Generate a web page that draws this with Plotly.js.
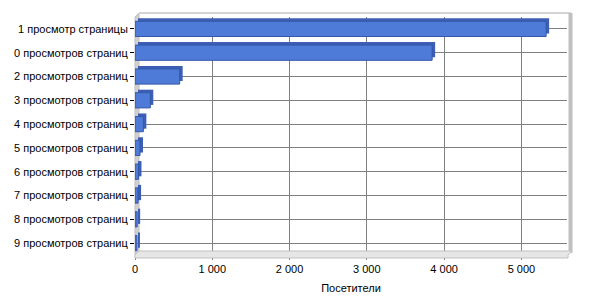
<!DOCTYPE html>
<html>
<head>
<meta charset="utf-8">
<script src="https://cdn.plot.ly/plotly-3.0.1.min.js"></script>
<style>html,body{margin:0;padding:0;background:#fff;}#chart{width:600px;height:300px;}</style>
</head>
<body>
<div id="chart"></div>
<script>
const categories = ["1 просмотр страницы","0 просмотров страниц","2 просмотров страниц","3 просмотров страниц","4 просмотров страниц","5 просмотров страниц","6 просмотров страниц","7 просмотров страниц","8 просмотров страниц","9 просмотров страниц"];
const visitors = [5320, 3845, 578, 198, 108, 65, 45, 40, 28, 25];
const xTickVals = [0, 1000, 2000, 3000, 4000, 5000];
const xTitle = "Посетители";

// layout geometry (pixels)
const W = 600, H = 300;
const mL = 135, mR = 33, mT = 17, mB = 45;
const pw = W - mL - mR, ph = H - mT - mB;
const px = v => (v - mL) / pw;
const py = v => (H - mB - v) / ph;
const depth = 3; // 3D depth in px
const xMax = 5590;
const depthData = depth / pw * xMax;
const rowPx = ph / categories.length;

const barW = 0.64;
const front = {
  type: 'bar', orientation: 'h', y: categories, x: visitors,
  width: barW, offset: -barW/2,
  marker: {color: '#4F7BD8', line: {color: '#3557A8', width: 1}},
  hoverinfo: 'x+y'
};
const side = {
  type: 'bar', orientation: 'h', y: categories, x: visitors,
  base: visitors.map(() => depthData),
  width: barW, offset: -barW/2 - depth / rowPx,
  marker: {color: '#3C5EB4', line: {width: 0}},
  hoverinfo: 'skip'
};

const grey = '#c0c0c0';
const shapes = [
  // left wall
  {type:'path', xref:'paper', yref:'paper', layer:'below',
   path:`M ${px(135)} ${py(17)} L ${px(139)} ${py(13)} L ${px(139)} ${py(251)} L ${px(135)} ${py(255)} Z`,
   fillcolor:'#d0d0d0', line:{color:grey, width:1}},
  // top edge of back wall
  {type:'line', xref:'paper', yref:'paper', x0:px(139), x1:px(571), y0:py(13), y1:py(13), line:{color:'#d4d4d4', width:2}},
  // right wall
  {type:'line', xref:'paper', yref:'paper', x0:px(570.5), x1:px(570.5), y0:py(13), y1:py(253), line:{color:grey, width:4}},
  // floor
  {type:'path', xref:'paper', yref:'paper',
   path:`M ${px(135)} ${py(255)} L ${px(139)} ${py(251)} L ${px(572)} ${py(251)} L ${px(568)} ${py(255)} L ${px(568)} ${py(258)} L ${px(135)} ${py(258)} Z`,
   fillcolor:'#e6e6e6', line:{color:grey, width:1}}
];

const layout = {
  width: W, height: H,
  margin: {l: mL, r: mR, t: mT, b: mB, pad: 0},
  paper_bgcolor: '#fff', plot_bgcolor: '#fff',
  barmode: 'overlay',
  showlegend: false,
  separators: ', ',
  font: {family: 'Liberation Sans, Arial, sans-serif', size: 11, color: '#000'},
  xaxis: {
    range: [0, xMax], tickvals: xTickVals, tickformat: ',d',
    showgrid: true, gridcolor: '#808080', gridwidth: 1,
    zeroline: false, showline: false,
    ticks: 'outside', ticklen: 4, tickcolor: '#808080',
    tickfont: {size: 11}, automargin: false,
    title: {text: xTitle, font: {size: 11}, standoff: 10}
  },
  yaxis: {
    type: 'category', autorange: 'reversed',
    showgrid: true, gridcolor: '#808080', gridwidth: 1,
    zeroline: false, showline: false,
    ticks: 'outside', ticklen: 4, tickcolor: '#000',
    tickfont: {size: 11}, automargin: false
  },
  shapes: shapes
};

Plotly.newPlot('chart', [side, front], layout, {displayModeBar: false, staticPlot: true});
</script>
</body>
</html>
